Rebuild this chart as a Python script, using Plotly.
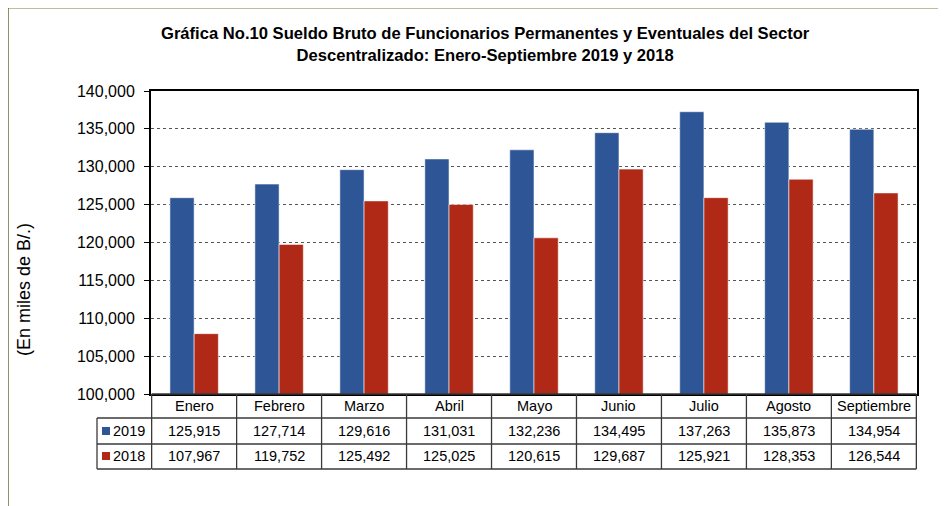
import plotly.graph_objects as go

meses = ["Enero", "Febrero", "Marzo", "Abril", "Mayo", "Junio", "Julio", "Agosto", "Septiembre"]
valores_2019 = [125915, 127714, 129616, 131031, 132236, 134495, 137263, 135873, 134954]
valores_2018 = [107967, 119752, 125492, 125025, 120615, 129687, 125921, 128353, 126544]
series = [("2019", valores_2019, "#2E5596"), ("2018", valores_2018, "#B02816")]
titulo = "Gráfica No.10 Sueldo Bruto de Funcionarios Permanentes y Eventuales del Sector<br>Descentralizado: Enero-Septiembre 2019 y 2018"
eje_y = "(En miles de B/.)"

FONT = "Liberation Sans, Arial, sans-serif"
W, H = 946, 506
OFF = 8  # page body margin
SX0, SX1, SY0, SY1 = 151, 917, 91, 394
L, T = SX0 - OFF, SY0 - OFF
R, B = W - (SX1 - OFF), H - (SY1 - OFF)
PW, PH = SX1 - SX0, SY1 - SY0

def px_x(p):
    return (p - SX0) / PW

def px_y(p):
    return (SY1 - p) / PH

fig = go.Figure()
for name, vals, col in series:
    fig.add_trace(go.Bar(x=meses, y=vals, name=name, marker=dict(color=col, line=dict(color="rgba(255,255,255,0.55)", width=1)), showlegend=False))

fig.update_layout(
    width=W, height=H,
    margin=dict(l=L, r=R, t=T, b=B),
    paper_bgcolor="white", plot_bgcolor="white",
    barmode="group", bargap=0.43, bargroupgap=0,
    font=dict(family=FONT, color="black"),
)
fig.update_xaxes(showticklabels=False, ticks="", showline=True, linecolor="black", linewidth=2, mirror=True, showgrid=False)
fig.update_yaxes(range=[100000, 140000], dtick=5000, tickformat=",", ticks="outside", ticklen=5, tickcolor="black",
                 tickfont=dict(size=16, family=FONT), showline=True, linecolor="black", linewidth=2, mirror=True,
                 showgrid=True, gridcolor="#555555", griddash="dot", gridwidth=1, ticklabelstandoff=6)

shapes = []
ann = []
row_lines = [394, 418, 444, 469]
row_centers = [406, 431, 456]
n = len(meses)
line_style = dict(color="#3a3a3a", width=1.3)
for yp in row_lines:
    shapes.append(dict(type="line", xref="x", yref="paper", x0=-0.5, x1=n - 0.5, y0=px_y(yp), y1=px_y(yp), line=line_style))
for yp in row_lines[1:]:
    shapes.append(dict(type="line", xref="paper", yref="paper", x0=px_x(97), x1=0, y0=px_y(yp), y1=px_y(yp), line=line_style))
shapes.append(dict(type="line", xref="paper", yref="paper", x0=px_x(97), x1=px_x(97), y0=px_y(418), y1=px_y(469), line=line_style))
for k in range(n + 1):
    shapes.append(dict(type="line", xref="x", yref="paper", x0=k - 0.5, x1=k - 0.5, y0=px_y(394), y1=px_y(469), line=line_style))

cell_font = dict(size=14.5, family=FONT)
for m in meses:
    ann.append(dict(x=m, xref="x", y=px_y(row_centers[0]), yref="paper", text=m, showarrow=False,
                    xanchor="center", yanchor="middle", font=cell_font))
for r, (name, vals, col) in enumerate(series):
    yc = px_y(row_centers[r + 1])
    for m, v in zip(meses, vals):
        ann.append(dict(x=m, xref="x", y=yc, yref="paper", text=f"{v:,}", showarrow=False,
                        xanchor="center", yanchor="middle", font=cell_font))
    shapes.append(dict(type="rect", xref="paper", yref="paper", x0=px_x(102), x1=px_x(110),
                       y0=px_y(row_centers[r + 1] + 4), y1=px_y(row_centers[r + 1] - 4), fillcolor=col, line=dict(width=0)))
    ann.append(dict(x=px_x(111), xref="paper", y=yc, yref="paper", text=name, xanchor="left", yanchor="middle",
                    showarrow=False, font=cell_font))

ann.append(dict(x=px_x(485), xref="paper", y=px_y(45), yref="paper", text="<b>" + titulo.replace("<br>", "</b><br><b>") + "</b>",
                showarrow=False, font=dict(size=16.6, family=FONT), align="center", xanchor="center", yanchor="middle"))
ann.append(dict(x=px_x(24), xref="paper", y=px_y(290), yref="paper", text=eje_y, textangle=-90, showarrow=False,
                xanchor="center", yanchor="middle", font=dict(size=18, family=FONT)))

shapes.append(dict(type="line", xref="paper", yref="paper", x0=px_x(8), x1=px_x(960), y0=px_y(7.5), y1=px_y(7.5),
                   line=dict(color="#7F7F3A", width=2)))
shapes.append(dict(type="line", xref="paper", yref="paper", x0=px_x(8), x1=px_x(8), y0=px_y(7.5), y1=px_y(520),
                   line=dict(color="#6B6B3A", width=1.5)))

fig.update_layout(shapes=shapes, annotations=ann)
fig.write_html("out.html")
